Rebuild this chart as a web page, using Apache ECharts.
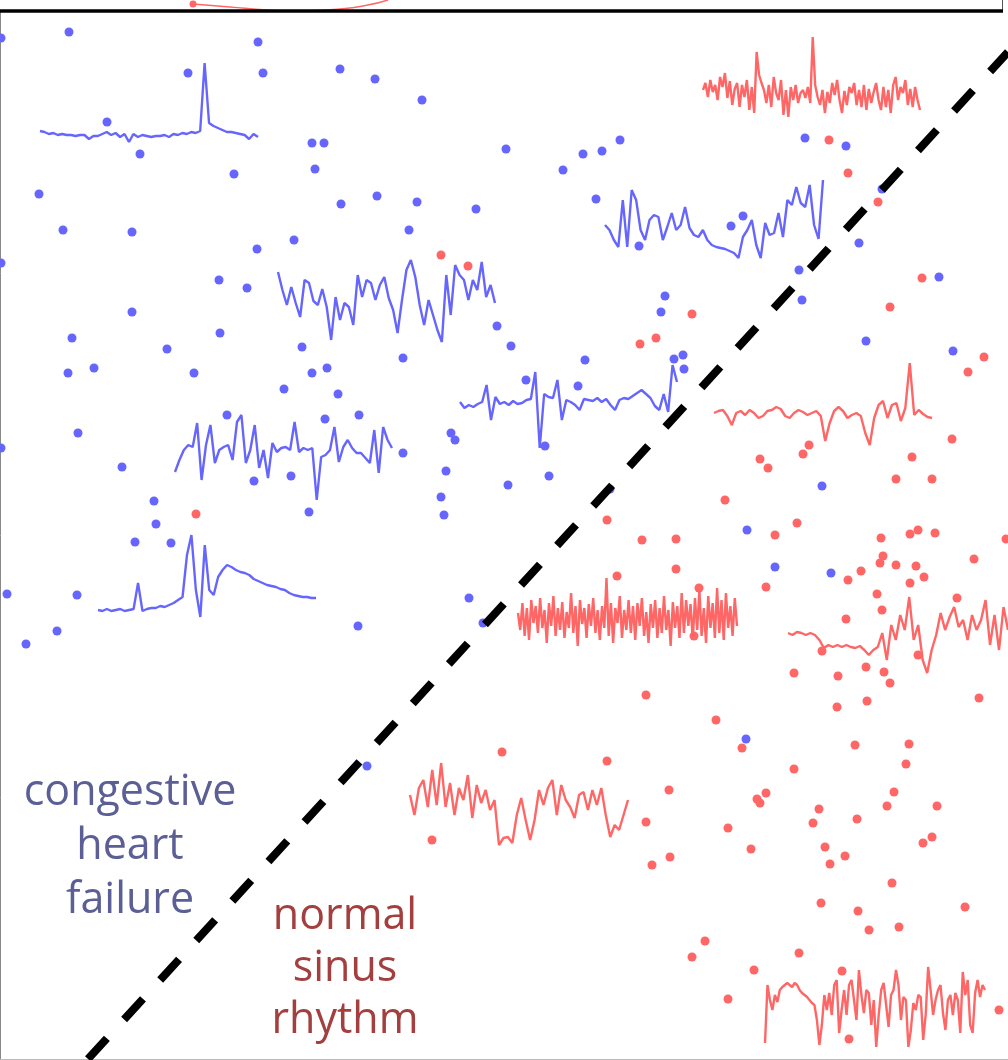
<!DOCTYPE html>
<html>
<head>
<meta charset="utf-8">
<script src="https://cdn.jsdelivr.net/npm/echarts@6/dist/echarts.min.js"></script>
<style>
  html, body { margin: 0; padding: 0; background: #fff; }
  #chart { width: 1008px; height: 1060px; }
</style>
</head>
<body>
<div id="chart"></div>
<script>
// embedding coordinates of the recordings (x right, y down)
var chfDots = [
    [1,38],[69,32],[258,42],[188,73],[263,73],[340,69],[375,79],[422,100],[107,122],[140,154],
    [312,143],[324,143],[315,169],[234,174],[39,194],[377,196],[417,202],[506,149],[563,170],[583,154],
    [602,151],[620,140],[805,138],[846,146],[882,189],[596,199],[639,246],[731,226],[743,216],[859,243],
    [799,270],[802,300],[939,277],[665,296],[661,312],[511,346],[585,360],[674,359],[683,355],[684,369],
    [526,380],[578,386],[866,341],[953,351],[63,230],[132,232],[1,263],[341,204],[476,209],[409,230],
    [294,240],[257,249],[219,280],[247,288],[132,312],[497,326],[72,338],[220,333],[167,349],[302,347],
    [403,358],[68,373],[94,368],[194,373],[312,373],[327,368],[284,389],[1,448],[78,433],[122,467],
    [227,415],[338,394],[325,419],[359,415],[403,453],[254,481],[291,476],[309,512],[154,501],[156,524],
    [135,542],[171,543],[7,594],[77,595],[57,631],[358,626],[26,644],[367,766],[451,433],[455,440],
    [446,471],[441,497],[444,515],[545,446],[549,476],[508,485],[610,489],[469,598],[483,623],[747,530],
    [822,486],[775,567],[831,573],[746,739]
];
var nsrDots = [
    [829,140],[848,173],[878,202],[441,255],[468,266],[922,278],[890,307],[692,314],[640,344],[656,338],
    [984,357],[968,372],[196,514],[432,840],[502,752],[607,520],[642,540],[676,539],[676,569],[617,576],
    [699,588],[694,636],[725,500],[760,459],[768,468],[803,454],[809,445],[797,523],[775,535],[912,457],
    [896,479],[932,479],[952,439],[881,538],[910,534],[918,530],[935,533],[1006,539],[974,559],[848,580],
    [861,571],[883,556],[880,563],[896,565],[916,566],[924,577],[910,583],[877,594],[882,610],[957,598],
    [766,587],[846,619],[918,655],[794,673],[838,676],[866,667],[884,672],[890,683],[822,651],[646,695],
    [867,701],[837,707],[979,698],[716,720],[742,748],[607,761],[855,745],[909,744],[906,764],[794,769],
    [669,790],[766,793],[757,799],[760,803],[894,792],[819,809],[887,806],[937,806],[646,822],[813,823],
    [857,819],[728,828],[932,837],[923,843],[825,847],[751,849],[845,856],[670,857],[830,864],[652,865],
    [892,883],[821,903],[858,911],[965,907],[869,930],[899,927],[705,941],[692,957],[799,953],[754,970],
    [842,971],[728,999],[849,1039],[999,1010]
];

// where each ECG snippet sits: [x start, x end, baseline]
var chfSpans = [[40,258,135],[278,495,295],[605,823,225],[175,392,450],[460,677,402],[98,316,605]];
var nsrSpans = [[703,920,95],[714,932,413],[518,737,618],[788,1008,635],[410,628,800],[765,985,1005]];

// ECG samples, amplitude above baseline
var chfEcg1 = [4,3,1,2,0,1,0,0,-1,0,0,-4,-1,-1,1,3,0,2,-2,1,-7,1,-2,0,-1,-2,-1,-1,0,-2,1,0,2,1,3,2,4,72,12,9,7,5,3,3,2,1,0,-4,1,-2];
var chfEcg2 = [23,5,-10,8,-8,-22,15,12,-6,-10,6,-12,-45,-2,-25,-8,-12,-30,20,-2,15,12,-5,10,18,-3,-15,-38,-5,25,35,18,-10,-30,-5,-20,-35,-47,20,-20,30,20,15,-5,15,5,33,-2,10,-8];
var chfEcg3 = [0,-5,-15,-22,25,-22,35,25,-5,-15,5,10,8,-15,-2,12,-5,0,18,-3,-10,-12,-5,-15,-20,-22,-23,-24,-26,-28,-33,-12,-5,5,-20,-33,2,-10,-8,12,-12,25,20,38,22,18,40,0,-14,45];
var chfEcg4 = [-22,-10,0,5,3,27,-30,5,25,-13,0,3,5,-10,28,35,-13,0,25,-18,0,-28,7,-2,2,3,0,28,-2,2,0,2,-50,-7,-5,0,23,-12,3,10,2,-3,-3,-8,-13,20,-23,23,10,2];
var chfEcg5 = [0,-6,-3,-5,-2,0,17,-18,5,-2,0,-3,1,-2,-1,2,3,30,-46,8,5,4,22,-18,2,0,-3,-8,3,2,1,4,0,3,-3,-8,2,4,3,6,9,12,8,4,-4,-8,8,-10,37,20];
var chfEcg6 = [-5,-6,-4,-6,-5,-4,-6,-5,-4,22,-6,-4,-3,-3,-1,-2,0,2,5,8,50,70,15,-12,60,15,10,28,35,40,38,35,33,32,30,26,24,22,20,19,18,16,15,12,10,9,8,8,7,7];
var nsrEcg1 = [
    5,12,-2,15,3,10,-5,18,8,22, -3,14,-10,6,12,-12,10,-2,15,-15,
    8,-18,43,20,12,5,-8,10,-12,18, 2,-5,15,-20,5,-22,8,-5,10,-8,
    2,5,-3,8,-8,58,10,-2,-10,5, -18,3,-8,12,0,15,-5,-18,4,-10,
    8,2,12,-10,5,-12,10,-15,6,-8, 3,12,-5,-15,8,-12,5,-18,10,18,
    -5,8,2,15,-10,6,-12,8,-5,-15
];
var nsrEcg2 = [0,2,3,-3,-12,0,2,-2,3,0,-5,-3,2,3,6,4,-3,-5,0,3,1,-2,0,2,-3,-28,-10,2,6,2,-5,-2,0,-3,-20,-32,-5,8,12,-5,8,10,-8,5,50,-2,3,-1,-4,-5];
var nsrEcg3 = [
    5,-12,15,-18,10,-22,18,-5,12,-15, 20,-10,8,-25,15,-8,22,-18,10,-12,
    16,-20,6,-10,25,-15,12,-28,18,-6, 10,-20,14,-8,20,-15,8,-22,12,-10,
    40,-18,15,-25,10,-5,22,-20,8,-12, 18,-15,12,-22,15,-8,20,-18,6,-25,
    14,-10,18,-20,10,-15,22,-12,8,-28, 16,-10,12,-20,25,-15,18,-8,14,-22,
    20,-12,28,-18,10,-25,22,-10,15,-20, 30,-15,18,-22,25,-10,12,-18,20,-8
];
var nsrEcg4 = [2,0,3,2,0,2,0,-5,-13,-10,-12,-10,-12,-10,-12,-13,-11,-15,-20,-15,-12,2,-25,10,-5,20,5,38,-5,10,-25,-38,-15,0,22,5,18,28,8,15,-5,20,5,15,35,-10,20,-15,28,5];
var nsrEcg5 = [5,-15,12,20,-7,30,-5,37,-7,17,-15,12,0,25,-18,15,-3,10,-10,0,-45,-38,-37,-43,-15,2,-20,-40,-20,10,-5,12,20,-15,15,0,-7,-18,5,8,-10,10,-5,12,-15,-37,-25,-30,-15,0];
var nsrEcg6 = [
    -38,20,5,-5,10,3,15,18,20,22, 20,18,22,20,15,12,10,8,5,2,
    0,-15,-40,-20,10,-5,12,-10,20,25, -28,-5,15,-10,20,25,5,-15,35,10,
    -8,15,12,-20,5,-42,-10,15,22,0, -22,10,15,35,20,-15,8,5,-42,-25,
    2,-5,10,8,-35,-10,38,15,-10,5, 15,20,-8,-25,5,10,-10,12,5,-28,
    33,10,25,-20,-28,12,25,8,20,15
];

var chfEcgs = [chfEcg1, chfEcg2, chfEcg3, chfEcg4, chfEcg5, chfEcg6];
var nsrEcgs = [nsrEcg1, nsrEcg2, nsrEcg3, nsrEcg4, nsrEcg5, nsrEcg6];

// decision boundary
var boundary = [[88,1059],[1008,52]];
// edge of the panel above
var abovePanel = [[193,4],[230,7],[267,10],[300,11],[340,9],[368,5],[388,0]];

var CHF_COLOR = '#6666ff';
var NSR_COLOR = '#ff6666';

function ecg_series(span, amps, color) {
    var step = (span[1] - span[0]) / (amps.length - 1);
    return {
        type: 'line',
        data: amps.map(function (a, i) { return [span[0] + i * step, span[2] - a]; }),
        showSymbol: false,
        symbol: 'none',
        lineStyle: { color: color, width: 2.4 },
        z: 2,
        silent: true
    };
}

var series = [];
chfEcgs.forEach(function (e, i) { series.push(ecg_series(chfSpans[i], e, CHF_COLOR)); });
nsrEcgs.forEach(function (e, i) { series.push(ecg_series(nsrSpans[i], e, NSR_COLOR)); });
series.push({
    type: 'scatter', data: chfDots, symbolSize: 9,
    itemStyle: { color: CHF_COLOR, opacity: 1 }, z: 3
});
series.push({
    type: 'scatter', data: nsrDots, symbolSize: 9,
    itemStyle: { color: NSR_COLOR, opacity: 1 }, z: 3
});
series.push({
    type: 'line', data: boundary, symbol: 'none',
    lineStyle: { color: '#000', width: 8, type: [28, 25.5] },
    z: 5
});
series.push({
    type: 'line', smooth: true, clip: false, symbol: 'none', showSymbol: true,
    data: abovePanel.map(function (p, i) {
        return i === 0 ? { value: p, symbol: 'circle', symbolSize: 7 } : p;
    }),
    lineStyle: { color: NSR_COLOR, width: 1.5 },
    itemStyle: { color: NSR_COLOR },
    z: 1
});

var chart = echarts.init(document.getElementById('chart'));
chart.setOption({
    animation: false,
    backgroundColor: '#fff',
    grid: { left: 0, right: 0, top: 10, bottom: 1 },
    xAxis: { type: 'value', min: 0, max: 1008, show: false },
    yAxis: { type: 'value', min: 10, max: 1059, inverse: true, show: false },
    title: [
        {
            text: 'congestive\nheart\nfailure', left: 130, top: 766, padding: 0, textAlign: 'center',
            textStyle: { fontFamily: 'Open Sans', fontSize: 43, fontWeight: 'normal', color: '#5b5f95', lineHeight: 54 }
        },
        {
            text: 'normal\nsinus\nrhythm', left: 345, top: 891, padding: 0, textAlign: 'center',
            textStyle: { fontFamily: 'Open Sans', fontSize: 43, fontWeight: 'normal', color: '#a33f3f', lineHeight: 52 }
        }
    ],
    graphic: [
        { type: 'line', shape: { x1: 0, y1: 11, x2: 1003, y2: 11 }, style: { stroke: '#000', lineWidth: 3.5 }, z: 10 },
        { type: 'line', shape: { x1: 1002.5, y1: 0, x2: 1002.5, y2: 11 }, style: { stroke: '#555', lineWidth: 1 } },
        { type: 'line', shape: { x1: 0.5, y1: 11, x2: 0.5, y2: 1060 }, style: { stroke: '#888', lineWidth: 1 } },
        { type: 'line', shape: { x1: 0, y1: 1059.5, x2: 1008, y2: 1059.5 }, style: { stroke: '#bbb', lineWidth: 1 } }
    ],
    series: series
});
</script>
</body>
</html>
